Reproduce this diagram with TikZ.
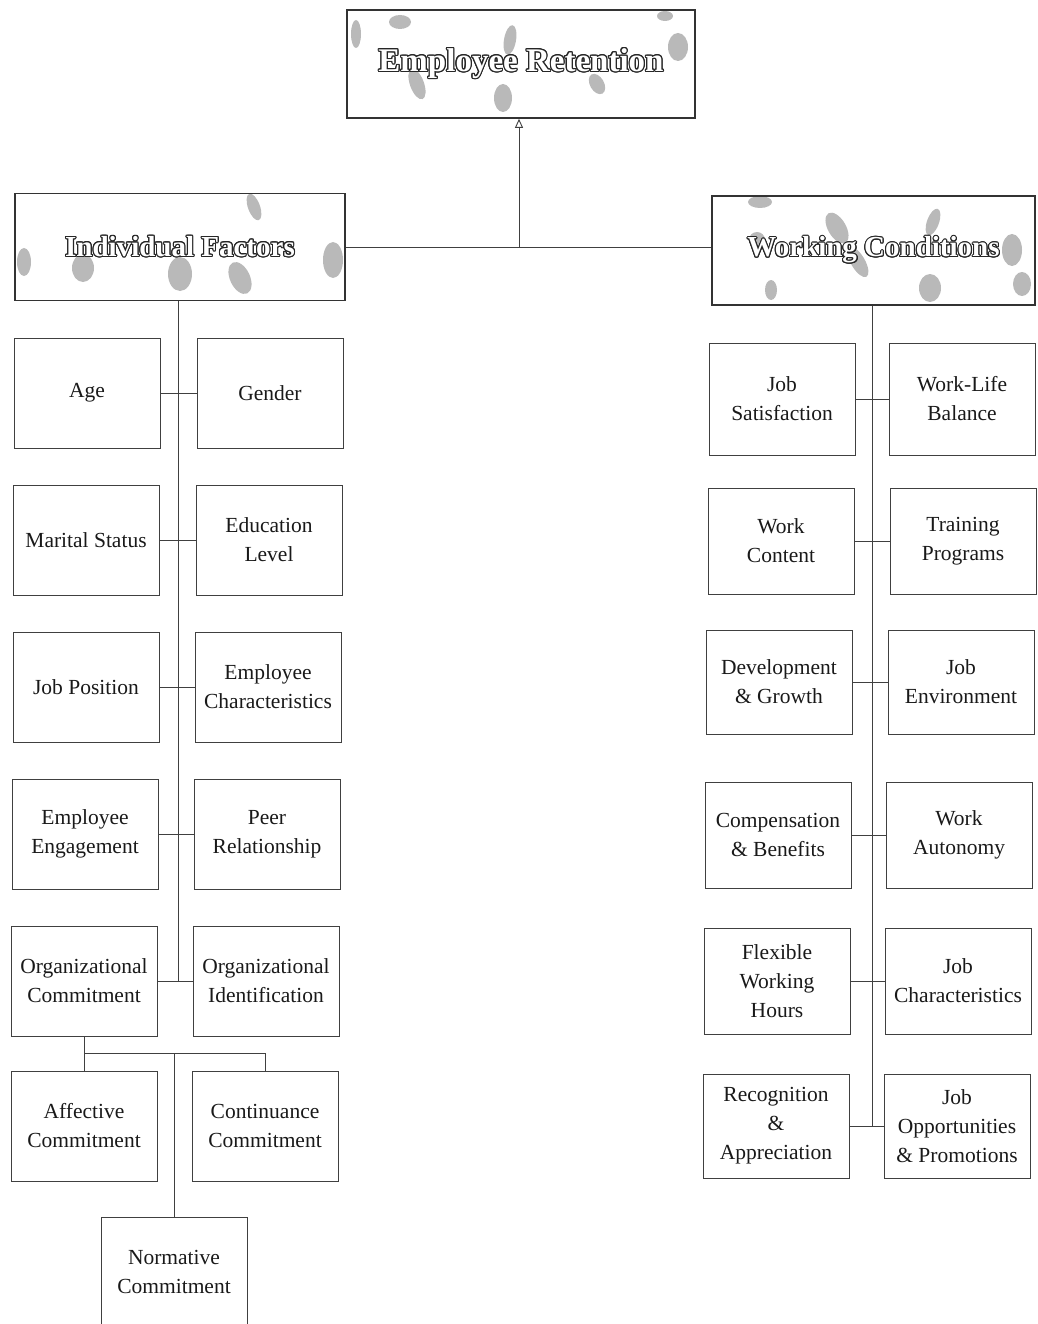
\documentclass[tikz,border=0pt]{standalone}
\usepackage{fontspec}
\setmainfont{Liberation Serif}
\usepackage{contour}
\contourlength{1.1pt}
\usetikzlibrary{arrows.meta}
\tikzset{
  bx/.style={draw=black!75, line width=0.9pt, minimum width=146pt, minimum height=110pt,
     align=center, inner sep=0pt, font=\fontsize{21.5}{29}\selectfont, text=black!90},
  hd/.style={draw=black!80, line width=1.6pt, align=center, inner sep=0pt,
     font=\fontsize{29}{34}\selectfont\bfseries},
  ln/.style={draw=black!75, line width=0.9pt},
  blob/.style={fill=gray!55}
}
\newcommand{\hdtext}[1]{{\color{white}\contour{black!85}{#1}}}
\begin{document}
\begin{tikzpicture}[x=1pt,y=-1pt]
\useasboundingbox (0,0) rectangle (1037,1324);
% texture blobs in header boxes
\begin{scope}[blob]
 % Employee Retention
 \fill (356,34) ellipse (5pt and 14pt);
 \fill (400,22) ellipse (11pt and 7pt);
 \fill[rotate around={20:(417,84)}] (417,84) ellipse (7pt and 16pt);
 \fill[rotate around={-10:(510,40)}] (510,40) ellipse (6pt and 15pt);
 \fill (503,98) ellipse (9pt and 14pt);
 \fill[rotate around={30:(597,84)}] (597,84) ellipse (7pt and 11pt);
 \fill (678,47) ellipse (10pt and 14pt);
 \fill (665,16) ellipse (8pt and 5pt);
 % Individual Factors
 \fill (24,262) ellipse (7pt and 14pt);
 \fill (83,268) ellipse (11pt and 14pt);
 \fill (180,274) ellipse (12pt and 17pt);
 \fill[rotate around={25:(240,278)}] (240,278) ellipse (10pt and 17pt);
 \fill[rotate around={20:(254,207)}] (254,207) ellipse (6pt and 14pt);
 \fill (333,260) ellipse (10pt and 18pt);
 % Working Conditions
 \fill (760,202) ellipse (12pt and 6pt);
 \fill[rotate around={30:(837,228)}] (837,228) ellipse (9pt and 17pt);
 \fill (757,240) ellipse (8pt and 8pt);
 \fill (771,290) ellipse (6pt and 10pt);
 \fill[rotate around={30:(858,262)}] (858,262) ellipse (7pt and 17pt);
 \fill (930,288) ellipse (11pt and 14pt);
 \fill[rotate around={-20:(933,222)}] (933,222) ellipse (6pt and 14pt);
 \fill (1012,250) ellipse (10pt and 16pt);
 \fill (1022,284) ellipse (9pt and 12pt);
\end{scope}
% headers
\node[hd, minimum width=348pt, minimum height=108pt] (ER) at (521,64) {\fontsize{33}{38}\selectfont\hdtext{Employee Retention}};
\node[hd, minimum width=330pt, minimum height=107pt] (IF) at (180,247) {\hdtext{Individual Factors}};
\node[hd, minimum width=323pt, minimum height=109pt] (WC) at (873.5,250.5) {\hdtext{Working Conditions}};
% left column
\node[bx] (age) at (87,393) {Age};
\node[bx] (gender) at (270,393) {Gender};
\node[bx] (marital) at (86,540) {Marital Status};
\node[bx] (edu) at (269,540) {Education\\Level};
\node[bx] (jobpos) at (86,687) {Job Position};
\node[bx] (empchar) at (268,687) {Employee\\Characteristics};
\node[bx] (empeng) at (85,834) {Employee\\Engagement};
\node[bx] (peer) at (267,834) {Peer\\Relationship};
\node[bx] (orgcom) at (84,981) {Organizational\\Commitment};
\node[bx] (orgid) at (266,981) {Organizational\\Identification};
\node[bx] (affect) at (84,1126) {Affective\\Commitment};
\node[bx] (contin) at (265,1126) {Continuance\\Commitment};
\node[bx] (norm) at (174,1272) {Normative\\Commitment};
% right column
\node[bx, minimum height=112pt] (jobsat) at (782,399) {Job\\Satisfaction};
\node[bx, minimum height=112pt] (wlb) at (962,399) {Work-Life\\Balance};
\node[bx, minimum height=106pt] (workcont) at (781,541) {Work\\Content};
\node[bx, minimum height=106pt] (training) at (963,541) {Training\\Programs};
\node[bx, minimum height=104pt] (devel) at (779,682) {Development\\\& Growth};
\node[bx, minimum height=104pt] (jobenv) at (961,682) {Job\\Environment};
\node[bx, minimum height=106pt] (comp) at (778,835) {Compensation\\\& Benefits};
\node[bx, minimum height=106pt] (auton) at (959,835) {Work\\Autonomy};
\node[bx, minimum height=106pt] (flex) at (777,981) {Flexible\\Working\\Hours};
\node[bx, minimum height=106pt] (jobchar) at (958,981) {Job\\Characteristics};
\node[bx, minimum height=104pt] (recog) at (776,1126) {Recognition\\\&\\Appreciation};
\node[bx, minimum height=104pt] (jobopp) at (957,1126) {Job\\Opportunities\\\& Promotions};
% top connectors
\coordinate (j) at (519,247);
\draw[ln] (IF.east) -- (IF.east -| WC.west);
\draw[ln, -{Triangle[open, length=9pt, width=8pt]}] (j) -- (j |- ER.south);
% left trunk
\coordinate (lt) at (178,0);
\draw[ln] (lt |- IF.south) -- (lt |- orgcom.east);
\draw[ln] (age.east) -- (gender.west);
\draw[ln] (marital.east) -- (edu.west);
\draw[ln] (jobpos.east) -- (empchar.west);
\draw[ln] (empeng.east) -- (peer.west);
\draw[ln] (orgcom.east) -- (orgid.west);
% organizational commitment subtree
\coordinate (bus) at (0,1053);
\draw[ln] (orgcom.south) -- (orgcom.south |- bus) -| (contin.north);
\draw[ln] (orgcom.south |- bus) -- (affect.north);
\draw[ln] (norm.north) -- (norm.north |- bus);
% right trunk
\coordinate (rt) at (872,0);
\draw[ln] (rt |- WC.south) -- (rt |- recog.east);
\draw[ln] (jobsat.east) -- (wlb.west);
\draw[ln] (workcont.east) -- (training.west);
\draw[ln] (devel.east) -- (jobenv.west);
\draw[ln] (comp.east) -- (auton.west);
\draw[ln] (flex.east) -- (jobchar.west);
\draw[ln] (recog.east) -- (jobopp.west);
\end{tikzpicture}
\end{document}
